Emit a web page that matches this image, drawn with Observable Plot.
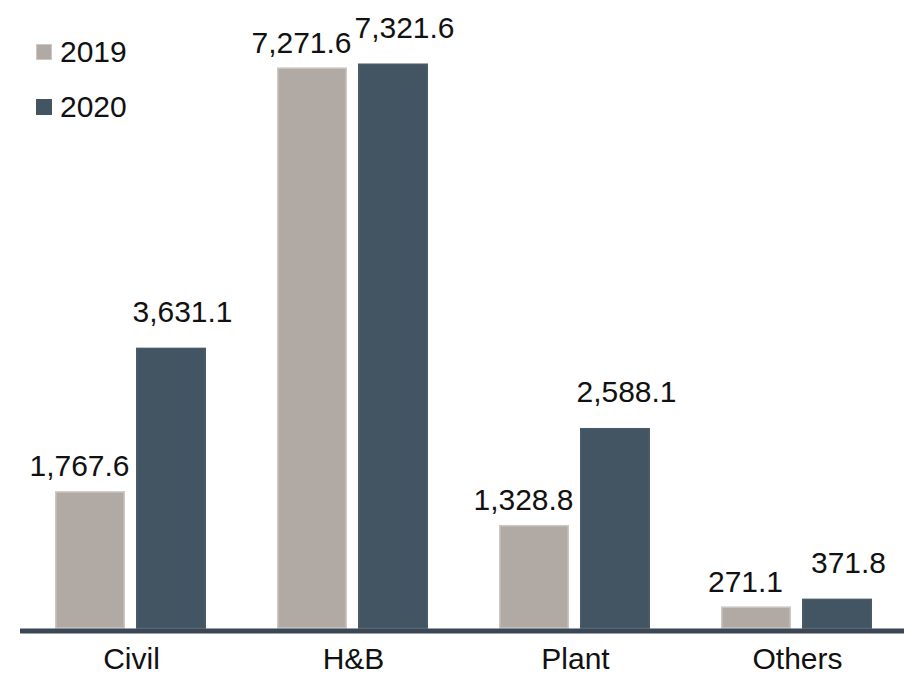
<!DOCTYPE html>
<html>
<head>
<meta charset="utf-8">
<script src="https://cdn.jsdelivr.net/npm/d3@7"></script>
<script src="https://cdn.jsdelivr.net/npm/@observablehq/plot@0.6"></script>
<style>
  html, body { margin: 0; padding: 0; background: #fff; overflow: hidden; }
  #wrap { position: relative; width: 904px; height: 678px; font-family: "Liberation Sans", Arial, Helvetica, sans-serif; }
  #wrap svg { display: block; }
  #legend { position: absolute; left: 36px; top: 34px; }
  .item { display: flex; align-items: center; height: 36px; margin-bottom: 19px; font-size: 30px; color: #111; }
  .sw { width: 16px; height: 16px; margin-right: 8px; box-sizing: border-box; }
</style>
</head>
<body>
<div id="wrap"><div id="legend"></div></div>
<script>
const categories = ["Civil", "H&B", "Plant", "Others"];
const series = ["2019", "2020"];
const values2019 = [1767.6, 7271.6, 1328.8, 271.1];
const values2020 = [3631.1, 7321.6, 2588.1, 371.8];
const colors = ["#b0a9a4", "#435463"];

const data = [];
categories.forEach((c, i) => {
  data.push({category: c, series: "2019", value: values2019[i]});
  data.push({category: c, series: "2020", value: values2020[i]});
});

const fmt = d3.format(",.1f");
const font = '"Liberation Sans", Arial, Helvetica, sans-serif';

const chart = Plot.plot({
  width: 904,
  height: 678,
  marginTop: 12,
  marginBottom: 50,
  marginLeft: 20,
  marginRight: 0,
  style: {fontFamily: font, fontSize: "30px", color: "#111", background: "#fff"},
  fx: {domain: categories, range: [20, 908], padding: 0, label: null, axis: "bottom", tickSize: 0, tickPadding: 19},
  x: {domain: series, paddingInner: 0.1358, paddingOuter: 0.438, axis: null},
  y: {domain: [0, 8000], axis: null},
  color: {domain: series, range: colors},
  marks: [
    Plot.barY(data, {fx: "category", x: "series", y: "value", fill: "series",
      stroke: d => d.series === "2019" ? "#cdc8c4" : "#4a5b6a", strokeWidth: 1.5, insetLeft: 0.75, insetRight: 0.75}),
    Plot.ruleY([0], {stroke: "#3b4657", strokeWidth: 5, dy: 2.5}),
    Plot.text(data.filter(d => d.series === "2019"), {fx: "category", x: "series", y: "value",
      text: d => fmt(d.value), lineAnchor: "bottom", dx: -11, dy: -16, fill: "#111", fontSize: 30}),
    Plot.text(data.filter(d => d.series === "2020"), {fx: "category", x: "series", y: "value",
      text: d => fmt(d.value), lineAnchor: "bottom", dx: 11, dy: -27, fill: "#111", fontSize: 30})
  ]
});

const wrap = document.getElementById("wrap");
wrap.insertBefore(chart, wrap.firstChild);

const legend = document.getElementById("legend");
series.forEach((s, i) => {
  const item = document.createElement("div");
  item.className = "item";
  const sw = document.createElement("div");
  sw.className = "sw";
  sw.style.background = colors[i];
  if (i === 0) sw.style.border = "1.5px solid #cdc8c4";
  const t = document.createElement("span");
  t.textContent = s;
  item.appendChild(sw);
  item.appendChild(t);
  legend.appendChild(item);
});
</script>
</body>
</html>
